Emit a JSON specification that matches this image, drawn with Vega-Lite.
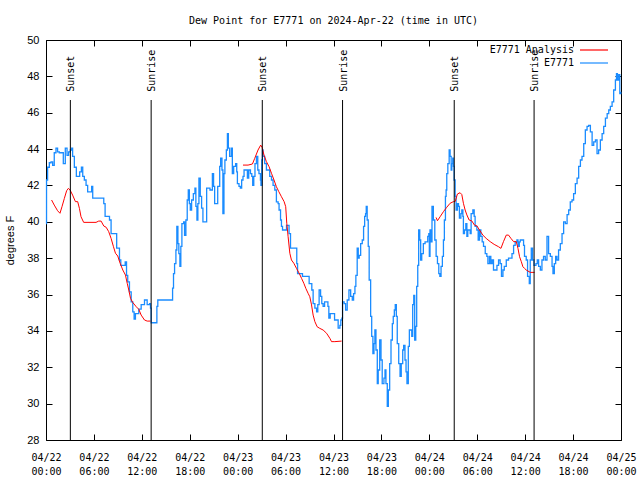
{
"$schema": "https://vega.github.io/schema/vega-lite/v6.json",
"width": 575, "height": 400,
"autosize": "none",
"padding": {"left": 46, "top": 40, "right": 19, "bottom": 40},
"background": "white",
"title": {"text": "Dew Point for E7771 on 2024-Apr-22 (time in UTC)", "font": "DejaVu Sans Mono", "fontSize": 10, "fontWeight": "normal", "color": "black", "anchor": "middle", "offset": 8},
"config": {"view": {"stroke": "black", "strokeWidth": 1}},
"datasets": {
"obs": [
{"t":"2024-04-22T00:00:00Z","v":39.9},{"t":"2024-04-22T00:04:00Z","v":42.3},{"t":"2024-04-22T00:12:00Z","v":43.0},{"t":"2024-04-22T00:25:00Z","v":43.25},{"t":"2024-04-22T00:38:00Z","v":43.3},{"t":"2024-04-22T00:50:00Z","v":43.1},{"t":"2024-04-22T01:02:00Z","v":43.8},{"t":"2024-04-22T01:15:00Z","v":44.05},{"t":"2024-04-22T01:27:00Z","v":43.85},{"t":"2024-04-22T01:40:00Z","v":43.8},{"t":"2024-04-22T02:10:00Z","v":43.2},{"t":"2024-04-22T02:25:00Z","v":44.05},{"t":"2024-04-22T02:38:00Z","v":43.65},{"t":"2024-04-22T02:50:00Z","v":43.85},{"t":"2024-04-22T03:03:00Z","v":43.95},{"t":"2024-04-22T03:13:00Z","v":44.05},{"t":"2024-04-22T03:20:00Z","v":43.6},{"t":"2024-04-22T03:33:00Z","v":43.0},{"t":"2024-04-22T03:48:00Z","v":42.5},{"t":"2024-04-22T04:13:00Z","v":42.75},{"t":"2024-04-22T04:26:00Z","v":43.0},{"t":"2024-04-22T04:36:00Z","v":42.5},{"t":"2024-04-22T04:48:00Z","v":42.3},{"t":"2024-04-22T05:01:00Z","v":42.0},{"t":"2024-04-22T05:13:00Z","v":41.65},{"t":"2024-04-22T05:43:00Z","v":41.95},{"t":"2024-04-22T05:51:00Z","v":41.3},{"t":"2024-04-22T07:14:00Z","v":41.0},{"t":"2024-04-22T07:24:00Z","v":40.3},{"t":"2024-04-22T07:57:00Z","v":40.1},{"t":"2024-04-22T08:09:00Z","v":39.35},{"t":"2024-04-22T08:51:00Z","v":38.55},{"t":"2024-04-22T09:12:00Z","v":37.9},{"t":"2024-04-22T09:22:00Z","v":37.6},{"t":"2024-04-22T09:55:00Z","v":37.8},{"t":"2024-04-22T10:05:00Z","v":37.05},{"t":"2024-04-22T10:14:00Z","v":36.7},{"t":"2024-04-22T10:27:00Z","v":36.15},{"t":"2024-04-22T10:40:00Z","v":35.6},{"t":"2024-04-22T10:52:00Z","v":35.05},{"t":"2024-04-22T11:02:00Z","v":34.65},{"t":"2024-04-22T11:12:00Z","v":34.95},{"t":"2024-04-22T11:37:00Z","v":35.2},{"t":"2024-04-22T11:55:00Z","v":35.45},{"t":"2024-04-22T12:20:00Z","v":35.7},{"t":"2024-04-22T12:40:00Z","v":35.45},{"t":"2024-04-22T12:58:00Z","v":35.5},{"t":"2024-04-22T13:05:00Z","v":35.25},{"t":"2024-04-22T13:10:00Z","v":34.45},{"t":"2024-04-22T13:53:00Z","v":35.35},{"t":"2024-04-22T14:00:00Z","v":35.7},{"t":"2024-04-22T15:51:00Z","v":36.35},{"t":"2024-04-22T15:58:00Z","v":37.15},{"t":"2024-04-22T16:06:00Z","v":37.7},{"t":"2024-04-22T16:16:00Z","v":38.45},{"t":"2024-04-22T16:23:00Z","v":39.75},{"t":"2024-04-22T16:31:00Z","v":38.8},{"t":"2024-04-22T16:38:00Z","v":38.25},{"t":"2024-04-22T16:46:00Z","v":37.55},{"t":"2024-04-22T16:53:00Z","v":38.65},{"t":"2024-04-22T17:01:00Z","v":39.9},{"t":"2024-04-22T17:14:00Z","v":40.0},{"t":"2024-04-22T17:21:00Z","v":39.25},{"t":"2024-04-22T17:31:00Z","v":40.1},{"t":"2024-04-22T17:41:00Z","v":41.2},{"t":"2024-04-22T17:49:00Z","v":41.75},{"t":"2024-04-22T17:57:00Z","v":41.0},{"t":"2024-04-22T18:04:00Z","v":40.65},{"t":"2024-04-22T18:14:00Z","v":41.2},{"t":"2024-04-22T18:27:00Z","v":41.55},{"t":"2024-04-22T18:39:00Z","v":41.85},{"t":"2024-04-22T18:46:00Z","v":40.85},{"t":"2024-04-22T18:54:00Z","v":40.1},{"t":"2024-04-22T19:01:00Z","v":41.0},{"t":"2024-04-22T19:09:00Z","v":42.4},{"t":"2024-04-22T19:19:00Z","v":41.4},{"t":"2024-04-22T19:29:00Z","v":40.75},{"t":"2024-04-22T19:39:00Z","v":40.0},{"t":"2024-04-22T20:07:00Z","v":41.85},{"t":"2024-04-22T20:32:00Z","v":41.75},{"t":"2024-04-22T20:50:00Z","v":42.65},{"t":"2024-04-22T20:59:00Z","v":41.95},{"t":"2024-04-22T21:07:00Z","v":41.0},{"t":"2024-04-22T21:30:00Z","v":41.95},{"t":"2024-04-22T21:45:00Z","v":43.05},{"t":"2024-04-22T21:52:00Z","v":43.5},{"t":"2024-04-22T22:02:00Z","v":42.85},{"t":"2024-04-22T22:09:00Z","v":40.45},{"t":"2024-04-22T22:17:00Z","v":42.65},{"t":"2024-04-22T22:24:00Z","v":43.4},{"t":"2024-04-22T22:35:00Z","v":43.95},{"t":"2024-04-22T22:43:00Z","v":44.85},{"t":"2024-04-22T22:50:00Z","v":44.05},{"t":"2024-04-22T23:00:00Z","v":43.6},{"t":"2024-04-22T23:13:00Z","v":44.05},{"t":"2024-04-22T23:20:00Z","v":42.65},{"t":"2024-04-22T23:30:00Z","v":43.05},{"t":"2024-04-22T23:45:00Z","v":43.2},{"t":"2024-04-22T23:53:00Z","v":42.75},{"t":"2024-04-22T23:58:00Z","v":42.1},
{"t":"2024-04-23T00:10:00Z","v":41.95},{"t":"2024-04-23T00:20:00Z","v":41.85},{"t":"2024-04-23T00:30:00Z","v":42.3},{"t":"2024-04-23T00:40:00Z","v":42.5},{"t":"2024-04-23T00:48:00Z","v":42.85},{"t":"2024-04-23T01:13:00Z","v":42.4},{"t":"2024-04-23T01:23:00Z","v":42.85},{"t":"2024-04-23T01:36:00Z","v":42.65},{"t":"2024-04-23T01:46:00Z","v":42.5},{"t":"2024-04-23T01:53:00Z","v":42.0},{"t":"2024-04-23T02:01:00Z","v":42.5},{"t":"2024-04-23T02:10:00Z","v":43.2},{"t":"2024-04-23T02:21:00Z","v":43.6},{"t":"2024-04-23T02:31:00Z","v":42.85},{"t":"2024-04-23T02:40:00Z","v":42.65},{"t":"2024-04-23T02:51:00Z","v":42.3},{"t":"2024-04-23T02:55:00Z","v":42.0},{"t":"2024-04-23T03:01:00Z","v":43.4},{"t":"2024-04-23T03:06:00Z","v":43.95},{"t":"2024-04-23T03:11:00Z","v":43.6},{"t":"2024-04-23T03:23:00Z","v":43.2},{"t":"2024-04-23T03:36:00Z","v":42.85},{"t":"2024-04-23T04:01:00Z","v":42.5},{"t":"2024-04-23T04:14:00Z","v":42.3},{"t":"2024-04-23T04:26:00Z","v":42.0},{"t":"2024-04-23T04:39:00Z","v":41.75},{"t":"2024-04-23T04:51:00Z","v":41.1},{"t":"2024-04-23T05:04:00Z","v":41.0},{"t":"2024-04-23T05:11:00Z","v":40.65},{"t":"2024-04-23T05:22:00Z","v":40.1},{"t":"2024-04-23T05:29:00Z","v":39.75},{"t":"2024-04-23T05:37:00Z","v":39.55},{"t":"2024-04-23T06:07:00Z","v":39.8},{"t":"2024-04-23T06:26:00Z","v":39.35},{"t":"2024-04-23T06:37:00Z","v":38.55},{"t":"2024-04-23T07:24:00Z","v":37.7},{"t":"2024-04-23T07:30:00Z","v":37.15},{"t":"2024-04-23T08:07:00Z","v":37.0},{"t":"2024-04-23T08:57:00Z","v":36.6},{"t":"2024-04-23T09:17:00Z","v":36.25},{"t":"2024-04-23T09:27:00Z","v":35.5},{"t":"2024-04-23T09:40:00Z","v":35.25},{"t":"2024-04-23T09:53:00Z","v":35.05},{"t":"2024-04-23T10:02:00Z","v":35.45},{"t":"2024-04-23T10:12:00Z","v":36.25},{"t":"2024-04-23T10:23:00Z","v":35.9},{"t":"2024-04-23T10:32:00Z","v":35.5},{"t":"2024-04-23T10:42:00Z","v":35.35},{"t":"2024-04-23T10:53:00Z","v":35.6},{"t":"2024-04-23T11:18:00Z","v":35.35},{"t":"2024-04-23T11:25:00Z","v":34.7},{"t":"2024-04-23T11:35:00Z","v":34.95},{"t":"2024-04-23T12:08:00Z","v":34.6},{"t":"2024-04-23T12:35:00Z","v":34.15},{"t":"2024-04-23T12:48:00Z","v":34.3},{"t":"2024-04-23T12:55:00Z","v":34.6},{"t":"2024-04-23T13:03:00Z","v":34.7},{"t":"2024-04-23T13:08:00Z","v":35.6},{"t":"2024-04-23T13:20:00Z","v":35.5},{"t":"2024-04-23T13:31:00Z","v":35.15},{"t":"2024-04-23T13:43:00Z","v":35.7},{"t":"2024-04-23T13:56:00Z","v":36.25},{"t":"2024-04-23T14:09:00Z","v":35.9},{"t":"2024-04-23T14:21:00Z","v":35.7},{"t":"2024-04-23T14:31:00Z","v":36.05},{"t":"2024-04-23T14:41:00Z","v":36.45},{"t":"2024-04-23T14:48:00Z","v":37.05},{"t":"2024-04-23T14:58:00Z","v":38.55},{"t":"2024-04-23T15:06:00Z","v":38.0},{"t":"2024-04-23T15:13:00Z","v":38.15},{"t":"2024-04-23T15:24:00Z","v":38.8},{"t":"2024-04-23T15:36:00Z","v":39.0},{"t":"2024-04-23T15:46:00Z","v":39.75},{"t":"2024-04-23T15:54:00Z","v":40.3},{"t":"2024-04-23T16:01:00Z","v":40.45},{"t":"2024-04-23T16:06:00Z","v":40.85},{"t":"2024-04-23T16:13:00Z","v":40.1},{"t":"2024-04-23T16:21:00Z","v":38.65},{"t":"2024-04-23T16:28:00Z","v":36.8},{"t":"2024-04-23T16:39:00Z","v":34.8},{"t":"2024-04-23T16:47:00Z","v":33.7},{"t":"2024-04-23T16:56:00Z","v":32.75},{"t":"2024-04-23T17:04:00Z","v":33.3},{"t":"2024-04-23T17:11:00Z","v":34.05},{"t":"2024-04-23T17:19:00Z","v":32.95},{"t":"2024-04-23T17:29:00Z","v":31.1},{"t":"2024-04-23T17:36:00Z","v":31.85},{"t":"2024-04-23T17:47:00Z","v":33.5},{"t":"2024-04-23T17:57:00Z","v":32.4},{"t":"2024-04-23T18:06:00Z","v":31.1},{"t":"2024-04-23T18:19:00Z","v":31.4},{"t":"2024-04-23T18:27:00Z","v":31.85},{"t":"2024-04-23T18:34:00Z","v":31.1},{"t":"2024-04-23T18:44:00Z","v":29.85},{"t":"2024-04-23T18:52:00Z","v":30.75},{"t":"2024-04-23T19:02:00Z","v":32.2},{"t":"2024-04-23T19:12:00Z","v":33.5},{"t":"2024-04-23T19:22:00Z","v":34.4},{"t":"2024-04-23T19:29:00Z","v":34.8},{"t":"2024-04-23T19:37:00Z","v":35.15},{"t":"2024-04-23T19:44:00Z","v":35.45},{"t":"2024-04-23T19:52:00Z","v":34.8},{"t":"2024-04-23T19:59:00Z","v":33.3},{"t":"2024-04-23T20:10:00Z","v":32.2},{"t":"2024-04-23T20:20:00Z","v":31.5},{"t":"2024-04-23T20:29:00Z","v":32.2},{"t":"2024-04-23T20:40:00Z","v":32.95},{"t":"2024-04-23T20:47:00Z","v":33.2},{"t":"2024-04-23T20:57:00Z","v":32.4},{"t":"2024-04-23T21:05:00Z","v":31.75},{"t":"2024-04-23T21:12:00Z","v":31.1},{"t":"2024-04-23T21:22:00Z","v":33.15},{"t":"2024-04-23T21:30:00Z","v":34.05},{"t":"2024-04-23T21:48:00Z","v":33.7},{"t":"2024-04-23T21:55:00Z","v":35.45},{"t":"2024-04-23T22:03:00Z","v":35.95},{"t":"2024-04-23T22:10:00Z","v":33.5},{"t":"2024-04-23T22:18:00Z","v":34.25},{"t":"2024-04-23T22:25:00Z","v":36.45},{"t":"2024-04-23T22:33:00Z","v":37.6},{"t":"2024-04-23T22:40:00Z","v":39.55},{"t":"2024-04-23T22:48:00Z","v":39.0},{"t":"2024-04-23T22:55:00Z","v":37.9},{"t":"2024-04-23T23:03:00Z","v":38.25},{"t":"2024-04-23T23:15:00Z","v":38.8},{"t":"2024-04-23T23:28:00Z","v":38.9},{"t":"2024-04-23T23:48:00Z","v":39.2},{"t":"2024-04-23T23:56:00Z","v":39.35},
{"t":"2024-04-24T00:00:00Z","v":38.1},{"t":"2024-04-24T00:05:00Z","v":39.55},{"t":"2024-04-24T00:13:00Z","v":38.9},{"t":"2024-04-24T00:20:00Z","v":40.85},{"t":"2024-04-24T00:30:00Z","v":40.1},{"t":"2024-04-24T00:41:00Z","v":39.0},{"t":"2024-04-24T00:51:00Z","v":38.1},{"t":"2024-04-24T01:01:00Z","v":37.7},{"t":"2024-04-24T01:11:00Z","v":37.15},{"t":"2024-04-24T01:19:00Z","v":37.0},{"t":"2024-04-24T01:28:00Z","v":37.55},{"t":"2024-04-24T01:38:00Z","v":38.1},{"t":"2024-04-24T01:46:00Z","v":39.0},{"t":"2024-04-24T01:53:00Z","v":40.1},{"t":"2024-04-24T02:01:00Z","v":41.4},{"t":"2024-04-24T02:06:00Z","v":41.75},{"t":"2024-04-24T02:11:00Z","v":42.65},{"t":"2024-04-24T02:19:00Z","v":43.2},{"t":"2024-04-24T02:29:00Z","v":43.95},{"t":"2024-04-24T02:36:00Z","v":43.6},{"t":"2024-04-24T02:44:00Z","v":42.85},{"t":"2024-04-24T02:49:00Z","v":43.2},{"t":"2024-04-24T02:56:00Z","v":43.5},{"t":"2024-04-24T03:01:00Z","v":43.05},{"t":"2024-04-24T03:06:00Z","v":42.3},{"t":"2024-04-24T03:14:00Z","v":41.4},{"t":"2024-04-24T03:21:00Z","v":40.65},{"t":"2024-04-24T03:31:00Z","v":41.0},{"t":"2024-04-24T03:39:00Z","v":40.85},{"t":"2024-04-24T03:46:00Z","v":40.2},{"t":"2024-04-24T03:57:00Z","v":40.45},{"t":"2024-04-24T04:04:00Z","v":40.65},{"t":"2024-04-24T04:12:00Z","v":40.3},{"t":"2024-04-24T04:16:00Z","v":39.35},{"t":"2024-04-24T04:24:00Z","v":39.55},{"t":"2024-04-24T04:34:00Z","v":39.9},{"t":"2024-04-24T04:42:00Z","v":39.2},{"t":"2024-04-24T04:49:00Z","v":39.55},{"t":"2024-04-24T05:07:00Z","v":39.35},{"t":"2024-04-24T05:14:00Z","v":40.45},{"t":"2024-04-24T05:27:00Z","v":40.65},{"t":"2024-04-24T05:37:00Z","v":40.3},{"t":"2024-04-24T05:44:00Z","v":39.75},{"t":"2024-04-24T05:57:00Z","v":39.55},{"t":"2024-04-24T06:07:00Z","v":39.0},{"t":"2024-04-24T06:17:00Z","v":39.55},{"t":"2024-04-24T06:27:00Z","v":39.2},{"t":"2024-04-24T06:37:00Z","v":38.9},{"t":"2024-04-24T06:47:00Z","v":38.65},{"t":"2024-04-24T07:00:00Z","v":38.25},{"t":"2024-04-24T07:12:00Z","v":38.1},{"t":"2024-04-24T07:20:00Z","v":37.7},{"t":"2024-04-24T07:32:00Z","v":38.1},{"t":"2024-04-24T07:42:00Z","v":37.7},{"t":"2024-04-24T07:52:00Z","v":37.9},{"t":"2024-04-24T08:02:00Z","v":37.35},{"t":"2024-04-24T08:28:00Z","v":37.6},{"t":"2024-04-24T08:40:00Z","v":37.9},{"t":"2024-04-24T08:52:00Z","v":37.7},{"t":"2024-04-24T09:02:00Z","v":37.0},{"t":"2024-04-24T09:13:00Z","v":37.35},{"t":"2024-04-24T09:23:00Z","v":37.55},{"t":"2024-04-24T09:38:00Z","v":37.9},{"t":"2024-04-24T09:55:00Z","v":38.0},{"t":"2024-04-24T10:21:00Z","v":38.25},{"t":"2024-04-24T10:33:00Z","v":38.7},{"t":"2024-04-24T10:45:00Z","v":38.9},{"t":"2024-04-24T10:58:00Z","v":39.0},{"t":"2024-04-24T11:06:00Z","v":38.65},{"t":"2024-04-24T11:16:00Z","v":38.9},{"t":"2024-04-24T11:23:00Z","v":39.0},{"t":"2024-04-24T11:48:00Z","v":38.7},{"t":"2024-04-24T11:55:00Z","v":38.1},{"t":"2024-04-24T12:08:00Z","v":37.9},{"t":"2024-04-24T12:18:00Z","v":37.0},{"t":"2024-04-24T12:31:00Z","v":36.6},{"t":"2024-04-24T12:38:00Z","v":37.9},{"t":"2024-04-24T12:46:00Z","v":38.55},{"t":"2024-04-24T12:56:00Z","v":37.9},{"t":"2024-04-24T13:06:00Z","v":37.6},{"t":"2024-04-24T13:21:00Z","v":37.7},{"t":"2024-04-24T13:31:00Z","v":37.9},{"t":"2024-04-24T13:41:00Z","v":37.55},{"t":"2024-04-24T13:54:00Z","v":37.35},{"t":"2024-04-24T14:06:00Z","v":37.9},{"t":"2024-04-24T14:18:00Z","v":38.1},{"t":"2024-04-24T14:31:00Z","v":37.9},{"t":"2024-04-24T14:44:00Z","v":39.2},{"t":"2024-04-24T14:56:00Z","v":38.25},{"t":"2024-04-24T15:09:00Z","v":38.1},{"t":"2024-04-24T15:22:00Z","v":37.55},{"t":"2024-04-24T15:29:00Z","v":37.15},{"t":"2024-04-24T15:39:00Z","v":37.7},{"t":"2024-04-24T15:49:00Z","v":38.1},{"t":"2024-04-24T15:59:00Z","v":37.9},{"t":"2024-04-24T16:11:00Z","v":38.45},{"t":"2024-04-24T16:24:00Z","v":38.8},{"t":"2024-04-24T16:37:00Z","v":39.35},{"t":"2024-04-24T16:49:00Z","v":40.0},{"t":"2024-04-24T17:02:00Z","v":39.9},{"t":"2024-04-24T17:15:00Z","v":40.4},{"t":"2024-04-24T17:27:00Z","v":40.65},{"t":"2024-04-24T17:39:00Z","v":41.1},{"t":"2024-04-24T17:52:00Z","v":41.2},{"t":"2024-04-24T18:04:00Z","v":41.55},{"t":"2024-04-24T18:17:00Z","v":42.1},{"t":"2024-04-24T18:30:00Z","v":42.4},{"t":"2024-04-24T18:42:00Z","v":43.05},{"t":"2024-04-24T18:55:00Z","v":43.4},{"t":"2024-04-24T19:07:00Z","v":43.6},{"t":"2024-04-24T19:20:00Z","v":44.3},{"t":"2024-04-24T19:32:00Z","v":45.05},{"t":"2024-04-24T19:45:00Z","v":45.25},{"t":"2024-04-24T19:57:00Z","v":45.3},{"t":"2024-04-24T20:10:00Z","v":44.95},{"t":"2024-04-24T20:23:00Z","v":44.2},{"t":"2024-04-24T20:35:00Z","v":44.4},{"t":"2024-04-24T20:48:00Z","v":44.5},{"t":"2024-04-24T21:00:00Z","v":43.75},{"t":"2024-04-24T21:12:00Z","v":43.95},{"t":"2024-04-24T21:25:00Z","v":44.5},{"t":"2024-04-24T21:38:00Z","v":44.85},{"t":"2024-04-24T21:50:00Z","v":45.25},{"t":"2024-04-24T22:03:00Z","v":45.7},{"t":"2024-04-24T22:16:00Z","v":45.95},{"t":"2024-04-24T22:28:00Z","v":46.15},{"t":"2024-04-24T22:40:00Z","v":46.35},{"t":"2024-04-24T22:53:00Z","v":46.6},{"t":"2024-04-24T23:05:00Z","v":47.25},{"t":"2024-04-24T23:18:00Z","v":47.8},{"t":"2024-04-24T23:26:00Z","v":48.15},{"t":"2024-04-24T23:33:00Z","v":47.8},{"t":"2024-04-24T23:43:00Z","v":48.1},{"t":"2024-04-24T23:51:00Z","v":47.05},{"t":"2024-04-24T23:58:00Z","v":47.15}
],
"ana": [
{"t":"2024-04-22T00:42:00Z","v":41.2,"seg":1},{"t":"2024-04-22T01:02:00Z","v":40.92,"seg":1},{"t":"2024-04-22T01:27:00Z","v":40.61,"seg":1},{"t":"2024-04-22T01:45:00Z","v":40.47,"seg":1},{"t":"2024-04-22T02:00:00Z","v":40.83,"seg":1},{"t":"2024-04-22T02:18:00Z","v":41.29,"seg":1},{"t":"2024-04-22T02:35:00Z","v":41.71,"seg":1},{"t":"2024-04-22T02:48:00Z","v":41.84,"seg":1},{"t":"2024-04-22T03:01:00Z","v":41.75,"seg":1},{"t":"2024-04-22T03:20:00Z","v":41.47,"seg":1},{"t":"2024-04-22T03:41:00Z","v":41.11,"seg":1},{"t":"2024-04-22T03:58:00Z","v":41.11,"seg":1},{"t":"2024-04-22T04:11:00Z","v":40.74,"seg":1},{"t":"2024-04-22T04:23:00Z","v":40.28,"seg":1},{"t":"2024-04-22T04:43:00Z","v":39.97,"seg":1},{"t":"2024-04-22T06:16:00Z","v":39.97,"seg":1},{"t":"2024-04-22T06:36:00Z","v":40.04,"seg":1},{"t":"2024-04-22T06:54:00Z","v":40.04,"seg":1},{"t":"2024-04-22T07:14:00Z","v":39.77,"seg":1},{"t":"2024-04-22T07:32:00Z","v":39.7,"seg":1},{"t":"2024-04-22T07:51:00Z","v":39.46,"seg":1},{"t":"2024-04-22T08:09:00Z","v":39.09,"seg":1},{"t":"2024-04-22T08:27:00Z","v":38.63,"seg":1},{"t":"2024-04-22T08:42:00Z","v":38.27,"seg":1},{"t":"2024-04-22T08:59:00Z","v":38.12,"seg":1},{"t":"2024-04-22T09:17:00Z","v":37.72,"seg":1},{"t":"2024-04-22T09:37:00Z","v":37.35,"seg":1},{"t":"2024-04-22T09:57:00Z","v":37.07,"seg":1},{"t":"2024-04-22T10:10:00Z","v":36.62,"seg":1},{"t":"2024-04-22T10:22:00Z","v":36.25,"seg":1},{"t":"2024-04-22T10:35:00Z","v":35.79,"seg":1},{"t":"2024-04-22T10:52:00Z","v":35.56,"seg":1},{"t":"2024-04-22T11:18:00Z","v":35.33,"seg":1},{"t":"2024-04-22T11:37:00Z","v":35.19,"seg":1},{"t":"2024-04-22T11:55:00Z","v":34.87,"seg":1},{"t":"2024-04-22T12:20:00Z","v":34.6,"seg":1},{"t":"2024-04-22T12:40:00Z","v":34.54,"seg":1},{"t":"2024-04-22T13:05:00Z","v":34.54,"seg":1},
{"t":"2024-04-23T00:40:00Z","v":43.12,"seg":2},{"t":"2024-04-23T01:18:00Z","v":43.12,"seg":2},{"t":"2024-04-23T01:51:00Z","v":43.18,"seg":2},{"t":"2024-04-23T02:08:00Z","v":43.49,"seg":2},{"t":"2024-04-23T02:33:00Z","v":43.95,"seg":2},{"t":"2024-04-23T02:53:00Z","v":44.22,"seg":2},{"t":"2024-04-23T03:03:00Z","v":44.1,"seg":2},{"t":"2024-04-23T03:18:00Z","v":43.67,"seg":2},{"t":"2024-04-23T03:36:00Z","v":43.31,"seg":2},{"t":"2024-04-23T03:56:00Z","v":43.03,"seg":2},{"t":"2024-04-23T04:14:00Z","v":42.67,"seg":2},{"t":"2024-04-23T04:33:00Z","v":42.3,"seg":2},{"t":"2024-04-23T04:51:00Z","v":41.93,"seg":2},{"t":"2024-04-23T05:09:00Z","v":41.66,"seg":2},{"t":"2024-04-23T05:29:00Z","v":41.38,"seg":2},{"t":"2024-04-23T05:49:00Z","v":41.11,"seg":2},{"t":"2024-04-23T06:01:00Z","v":40.83,"seg":2},{"t":"2024-04-23T06:09:00Z","v":39.92,"seg":2},{"t":"2024-04-23T06:19:00Z","v":39.18,"seg":2},{"t":"2024-04-23T06:32:00Z","v":38.27,"seg":2},{"t":"2024-04-23T06:44:00Z","v":37.9,"seg":2},{"t":"2024-04-23T07:02:00Z","v":37.72,"seg":2},{"t":"2024-04-23T07:22:00Z","v":37.44,"seg":2},{"t":"2024-04-23T07:42:00Z","v":37.17,"seg":2},{"t":"2024-04-23T08:00:00Z","v":36.89,"seg":2},{"t":"2024-04-23T08:17:00Z","v":36.62,"seg":2},{"t":"2024-04-23T08:32:00Z","v":36.34,"seg":2},{"t":"2024-04-23T08:49:00Z","v":36.07,"seg":2},{"t":"2024-04-23T09:02:00Z","v":35.88,"seg":2},{"t":"2024-04-23T09:15:00Z","v":35.43,"seg":2},{"t":"2024-04-23T09:27:00Z","v":34.87,"seg":2},{"t":"2024-04-23T09:40:00Z","v":34.51,"seg":2},{"t":"2024-04-23T09:57:00Z","v":34.23,"seg":2},{"t":"2024-04-23T10:17:00Z","v":34.14,"seg":2},{"t":"2024-04-23T10:42:00Z","v":34.05,"seg":2},{"t":"2024-04-23T11:08:00Z","v":33.87,"seg":2},{"t":"2024-04-23T11:33:00Z","v":33.59,"seg":2},{"t":"2024-04-23T11:45:00Z","v":33.41,"seg":2},{"t":"2024-04-23T12:10:00Z","v":33.41,"seg":2},{"t":"2024-04-23T13:01:00Z","v":33.44,"seg":2},
{"t":"2024-04-24T00:51:00Z","v":40.24,"seg":3},{"t":"2024-04-24T01:01:00Z","v":40.06,"seg":3},{"t":"2024-04-24T01:21:00Z","v":40.28,"seg":3},{"t":"2024-04-24T01:46:00Z","v":40.56,"seg":3},{"t":"2024-04-24T02:11:00Z","v":40.8,"seg":3},{"t":"2024-04-24T02:36:00Z","v":41.02,"seg":3},{"t":"2024-04-24T03:01:00Z","v":41.11,"seg":3},{"t":"2024-04-24T03:14:00Z","v":41.11,"seg":3},{"t":"2024-04-24T03:31:00Z","v":41.53,"seg":3},{"t":"2024-04-24T03:51:00Z","v":41.6,"seg":3},{"t":"2024-04-24T04:04:00Z","v":41.5,"seg":3},{"t":"2024-04-24T04:16:00Z","v":41.02,"seg":3},{"t":"2024-04-24T04:29:00Z","v":40.65,"seg":3},{"t":"2024-04-24T04:42:00Z","v":40.38,"seg":3},{"t":"2024-04-24T04:59:00Z","v":40.1,"seg":3},{"t":"2024-04-24T05:19:00Z","v":40.05,"seg":3},{"t":"2024-04-24T05:39:00Z","v":39.82,"seg":3},{"t":"2024-04-24T05:57:00Z","v":39.78,"seg":3},{"t":"2024-04-24T06:17:00Z","v":39.55,"seg":3},{"t":"2024-04-24T06:42:00Z","v":39.27,"seg":3},{"t":"2024-04-24T07:07:00Z","v":39.09,"seg":3},{"t":"2024-04-24T07:37:00Z","v":38.91,"seg":3},{"t":"2024-04-24T08:07:00Z","v":38.76,"seg":3},{"t":"2024-04-24T08:40:00Z","v":38.63,"seg":3},{"t":"2024-04-24T08:58:00Z","v":38.54,"seg":3},{"t":"2024-04-24T09:17:00Z","v":38.91,"seg":3},{"t":"2024-04-24T09:38:00Z","v":39.27,"seg":3},{"t":"2024-04-24T09:55:00Z","v":39.27,"seg":3},{"t":"2024-04-24T10:13:00Z","v":39.09,"seg":3},{"t":"2024-04-24T10:33:00Z","v":38.91,"seg":3},{"t":"2024-04-24T10:53:00Z","v":38.91,"seg":3},{"t":"2024-04-24T11:06:00Z","v":38.54,"seg":3},{"t":"2024-04-24T11:18:00Z","v":38.08,"seg":3},{"t":"2024-04-24T11:31:00Z","v":37.81,"seg":3},{"t":"2024-04-24T11:43:00Z","v":37.53,"seg":3},{"t":"2024-04-24T11:55:00Z","v":37.44,"seg":3},{"t":"2024-04-24T12:08:00Z","v":37.35,"seg":3},{"t":"2024-04-24T12:38:00Z","v":37.22,"seg":3},{"t":"2024-04-24T13:11:00Z","v":37.22,"seg":3}
],
"sun": [
{"t":"2024-04-22T03:03:00Z","label":"Sunset"},{"t":"2024-04-22T13:10:00Z","label":"Sunrise"},
{"t":"2024-04-23T03:05:00Z","label":"Sunset"},{"t":"2024-04-23T13:08:00Z","label":"Sunrise"},
{"t":"2024-04-24T03:07:00Z","label":"Sunset"},{"t":"2024-04-24T13:07:00Z","label":"Sunrise"}
]
},
"layer": [
{
"data": {"name": "obs"},
"mark": {"type": "line", "interpolate": "step-after", "strokeWidth": 1.3},
"encoding": {
"x": {"field": "t", "type": "temporal",
"scale": {"type": "utc", "domain": [1713744000000, 1714003200000], "nice": false},
"axis": {"orient": "bottom", "title": null, "grid": false, "domain": false, "offset": -6, "values": [1713744000000,1713765600000,1713787200000,1713808800000,1713830400000,1713852000000,1713873600000,1713895200000,1713916800000,1713938400000,1713960000000,1713981600000,1714003200000], "labelExpr": "[utcFormat(datum.value, '%m/%d'), utcFormat(datum.value, '%H:%M')]", "labelFont": "DejaVu Sans Mono", "labelFontSize": 10, "labelColor": "black", "labelLineHeight": 14, "labelFlush": false, "labelOverlap": false, "labelPadding": 12, "tickSize": 6, "tickColor": "black"}},
"y": {"field": "v", "type": "quantitative",
"scale": {"domain": [28, 50], "nice": false, "zero": false},
"axis": {"orient": "left", "grid": false, "domain": false, "offset": -6, "values": [28,30,32,34,36,38,40,42,44,46,48,50], "title": "degrees F", "titleFont": "Liberation Sans", "titleFontSize": 11, "titleFontWeight": "normal", "titleColor": "black", "titlePadding": 11, "labelFont": "Liberation Sans", "labelFontSize": 11, "labelColor": "black", "labelPadding": 7, "labelOverlap": false, "tickSize": 6, "tickColor": "black"}},
"color": {"datum": "E7771", "type": "nominal",
"scale": {"domain": ["E7771 Analysis", "E7771"], "range": ["#ff0000", "#1a8cff"]},
"legend": {"orient": "none", "legendX": 542, "legendY": 4, "title": null, "symbolType": "M-2.8,0H2.8", "symbolSize": 100, "symbolStrokeWidth": 1.2, "labelAlign": "right", "labelOffset": -26, "labelFont": "DejaVu Sans Mono", "labelFontSize": 10, "labelColor": "black", "rowPadding": 2, "padding": 0}}
}
},
{
"data": {"name": "ana"},
"mark": {"type": "line", "strokeWidth": 1},
"encoding": {
"x": {"field": "t", "type": "temporal", "axis": {"orient": "top", "title": null, "labels": false, "grid": false, "domain": false, "offset": -6, "values": [1713744000000,1713765600000,1713787200000,1713808800000,1713830400000,1713852000000,1713873600000,1713895200000,1713916800000,1713938400000,1713960000000,1713981600000,1714003200000], "tickSize": 6, "tickColor": "black"}},
"y": {"field": "v", "type": "quantitative", "axis": {"orient": "right", "title": null, "labels": false, "grid": false, "domain": false, "offset": -6, "values": [28,30,32,34,36,38,40,42,44,46,48,50], "tickSize": 6, "tickColor": "black"}},
"detail": {"field": "seg", "type": "nominal"},
"color": {"datum": "E7771 Analysis", "type": "nominal"}
}
},
{
"data": {"name": "sun"},
"mark": {"type": "rule", "color": "black", "strokeWidth": 1},
"encoding": {
"x": {"field": "t", "type": "temporal", "axis": null},
"y": {"datum": 46.7, "type": "quantitative", "axis": null},
"y2": {"datum": 28}
}
},
{
"data": {"name": "sun"},
"mark": {"type": "text", "angle": 270, "align": "left", "baseline": "middle", "dy": 1, "font": "DejaVu Sans Mono", "fontSize": 10, "color": "black"},
"encoding": {
"x": {"field": "t", "type": "temporal", "axis": null},
"y": {"datum": 47.15, "type": "quantitative", "axis": null},
"text": {"field": "label"}
}
}
],
"resolve": {"axis": {"x": "independent", "y": "independent"}}
}
